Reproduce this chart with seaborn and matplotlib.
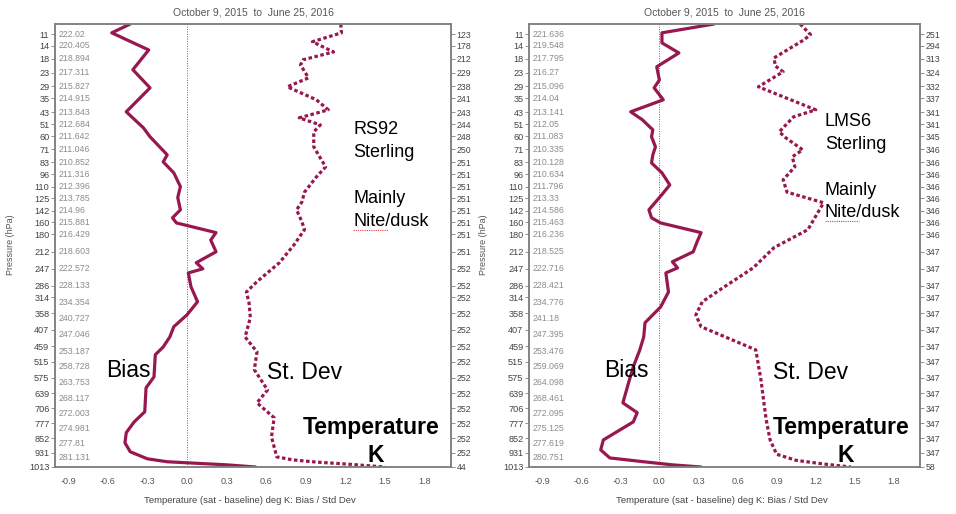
import numpy as np
import matplotlib
matplotlib.use('Agg')
import matplotlib.pyplot as plt
import matplotlib.transforms as mtransforms
from matplotlib.ticker import MultipleLocator, NullLocator
import seaborn as sns

# pressure levels shown on the axis (hPa)
LEVELS = [11, 14, 18, 23, 29, 35, 43, 51, 60, 71, 83, 96, 110, 125, 142, 160, 180,
          212, 247, 286, 314, 358, 407, 459, 515, 575, 639, 706, 777, 852, 931, 1013]

RS92_TEMPS = ['222.02', '220.405', '218.894', '217.311', '215.827', '214.915', '213.843',
              '212.684', '211.642', '211.046', '210.852', '211.316', '212.396', '213.785',
              '214.96', '215.881', '216.429', '218.603', '222.572', '228.133', '234.354',
              '240.727', '247.046', '253.187', '258.728', '263.753', '268.117', '272.003',
              '274.981', '277.81', '281.131']
LMS6_TEMPS = ['221.636', '219.548', '217.795', '216.27', '215.096', '214.04', '213.141',
              '212.05', '211.083', '210.335', '210.128', '210.634', '211.796', '213.33',
              '214.586', '215.463', '216.236', '218.525', '222.716', '228.421', '234.776',
              '241.18', '247.395', '253.476', '259.069', '264.098', '268.461', '272.095',
              '275.125', '277.619', '280.751']

RS92_COUNTS = [123, 178, 212, 229, 238, 241, 243, 244, 248, 250, 251, 251, 251, 251, 251, 251,
               251, 251, 252, 252, 252, 252, 252, 252, 252, 252, 252, 252, 252, 252, 252, 44]
LMS6_COUNTS = [251, 294, 313, 324, 332, 337, 341, 341, 345, 346, 346, 346, 346, 346, 346, 346,
               346, 347, 347, 347, 347, 347, 347, 347, 347, 347, 347, 347, 347, 347, 347, 58]

# RS92 bias / std dev profiles
RS92_BIAS_P = [8.8, 10.7, 15.2, 21.9, 29.7, 42.8, 53.6, 60.4, 76, 82.8, 94.2, 110, 124, 141,
               153, 161, 177, 190, 212, 234, 247, 256, 288, 326, 362, 397, 429, 462, 489,
               572, 616, 722, 770, 824, 877, 926, 966, 983, 989, 1001, 1013.95]
RS92_BIAS = [-0.43, -0.57, -0.29, -0.41, -0.28, -0.46, -0.33, -0.28, -0.15, -0.18, -0.10,
             -0.05, -0.07, -0.05, -0.11, -0.08, 0.22, 0.18, 0.22, 0.07, 0.12, 0.01, 0.03,
             0.08, 0.00, -0.10, -0.13, -0.18, -0.24, -0.25, -0.31, -0.32, -0.40, -0.46,
             -0.47, -0.43, -0.30, -0.15, 0.0, 0.30, 0.52]
RS92_STD_P = [8.8, 10.7, 12.9, 15.8, 18.3, 20.1, 25.2, 29.2, 35.8, 41.6, 46.7, 51.5, 56.6,
              68.8, 87.8, 98.7, 117, 130, 141, 159, 172, 199, 234, 276, 301, 329, 370, 429,
              479, 544, 625, 681, 750, 846, 955, 972, 985, 997, 1013.95]
RS92_STD = [1.165, 1.17, 0.95, 1.11, 0.88, 0.86, 0.92, 0.76, 0.98, 1.07, 0.85, 1.01, 0.96,
            0.96, 1.05, 0.98, 0.89, 0.87, 0.83, 0.87, 0.89, 0.81, 0.70, 0.53, 0.45, 0.47,
            0.48, 0.44, 0.53, 0.51, 0.61, 0.53, 0.66, 0.64, 0.68, 0.80, 0.98, 1.22, 1.50]

# LMS6 bias / std dev profiles
LMS6_BIAS_P = [8.8, 10.7, 13.2, 16.1, 20.8, 26.1, 29.7, 35.8, 42.8, 48, 55.1, 60.4, 68.8,
               76, 83.8, 94.2, 108, 120, 141, 153, 161, 177, 193, 212, 232, 245, 256, 301,
               340, 385, 429, 472, 533, 584, 681, 726, 770, 862, 916, 961, 983, 1001, 1013.95]
LMS6_BIAS = [0.42, 0.02, 0.02, 0.15, -0.02, 0.00, -0.04, 0.03, -0.22, -0.13, -0.05, -0.06,
             -0.03, -0.05, -0.06, 0.02, 0.08, 0.02, -0.08, -0.06, 0.01, 0.32, 0.29, 0.26,
             0.10, 0.14, 0.05, 0.07, 0.01, -0.11, -0.12, -0.15, -0.20, -0.23, -0.28, -0.17,
             -0.20, -0.43, -0.45, -0.38, -0.12, 0.10, 0.32]
LMS6_STD_P = [8.8, 11.1, 12.4, 17.7, 20.5, 22.7, 29.2, 41.6, 46, 56.6, 61.2, 71.4, 77.9,
              87.8, 102, 117, 131, 172, 204, 245, 288, 326, 362, 397, 472, 584, 670, 760,
              862, 940, 975, 995, 1013.95]
LMS6_STD = [1.08, 1.16, 1.11, 0.88, 0.89, 0.95, 0.76, 1.20, 1.03, 0.92, 0.97, 1.10, 1.02,
            1.04, 0.95, 0.98, 1.26, 1.14, 0.88, 0.72, 0.50, 0.33, 0.28, 0.32, 0.74, 0.78,
            0.80, 0.82, 0.85, 0.90, 1.05, 1.25, 1.47]

KAPPA = 0.286
LINE = '#98174F'
GRAY = '#808080'
NARROW = ['Liberation Sans Narrow', 'Liberation Sans', 'DejaVu Sans']
ARIAL = ['Liberation Sans', 'DejaVu Sans']


def fwd(p):
    return np.power(np.clip(p, 1e-6, None), KAPPA)


def inv(u):
    return np.power(np.clip(u, 1e-6, None), 1.0 / KAPPA)


def setup_axis(ax, temps, counts):
    ax.set_yscale('function', functions=(fwd, inv))
    ax.set_ylim(1013.95, 8.8)
    ax.set_xlim(-1.0, 2.0)
    ax.set_yticks(LEVELS)
    ax.set_yticklabels([str(v) for v in LEVELS], family=NARROW, fontsize=6.6, color='#444444')
    ax.yaxis.set_minor_locator(NullLocator())
    xt = np.round(np.arange(-0.9, 1.81, 0.3), 1) + 0.0
    ax.set_xticks(xt)
    ax.set_xticklabels([f'{v + 0.0:.1f}' for v in xt], family=NARROW, fontsize=6.6, color='#555555')
    ax.xaxis.set_minor_locator(MultipleLocator(0.06))
    ax.tick_params(axis='x', which='major', length=5, width=0.8, color=GRAY, pad=2)
    ax.tick_params(axis='x', which='minor', length=2.5, width=0.6, color=GRAY)
    ax.tick_params(axis='y', length=3, width=0.6, color=GRAY, pad=1)
    ax.set_xlabel('')
    ax.set_ylabel('')
    for s in ax.spines.values():
        s.set_color(GRAY)
        s.set_linewidth(1.1)
    ax.axvline(0, color='#666666', ls=(0, (1, 1.5)), lw=0.7, zorder=0)

    # temperature column just inside the left spine
    trans = mtransforms.blended_transform_factory(ax.transAxes, ax.transData)
    for lev, t in zip(LEVELS[:-1], temps):
        dy = -3.6 if lev >= 314 else 0
        tr = mtransforms.offset_copy(trans, fig=ax.figure, y=dy, units='points')
        ax.text(0.008, lev, t, transform=tr, ha='left', va='center',
                family=NARROW, fontsize=6.3, color='#8c8c8c')

    # sample counts on the right side
    tw = ax.twinx()
    tw.set_yscale('function', functions=(fwd, inv))
    tw.set_ylim(1013.95, 8.8)
    tw.set_yticks(LEVELS)
    tw.set_yticklabels([str(c) for c in counts], family=NARROW, fontsize=6.3, color='#444444')
    tw.yaxis.set_minor_locator(NullLocator())
    tw.tick_params(axis='y', length=3, width=0.6, color=GRAY, pad=1)
    for s in tw.spines.values():
        s.set_color(GRAY)
        s.set_linewidth(1.1)


def draw_panel(fig, rect, bias_p, bias, std_p, std, temps, counts, name, pos):
    ax = fig.add_axes(rect)
    sns.lineplot(x=bias, y=bias_p, orient='y', estimator=None, color=LINE, lw=2.3, ax=ax)
    sns.lineplot(x=std, y=std_p, orient='y', estimator=None, color=LINE, lw=2.3,
                 linestyle=(0, (1.1, 0.8)), ax=ax)
    setup_axis(ax, temps, counts)

    big = dict(transform=ax.transAxes, family=ARIAL, va='center', color='black')
    x0, y_name, y_mode = pos['inst']
    ax.text(x0, y_name, name, fontsize=13, **big)
    ax.text(x0, y_name - 0.052, 'Sterling', fontsize=13, **big)
    ax.text(x0, y_mode, 'Mainly', fontsize=13, **big)
    ax.text(x0, y_mode - 0.05, 'Nite/dusk', fontsize=13, **big)
    # spell-check squiggle under "Nite/dusk"
    ax.plot([x0, x0 + 0.087], [y_mode - 0.07] * 2,
            transform=ax.transAxes, color='#e04040', lw=0.8, ls=(0, (1, 1)))
    ax.text(pos['bias'], 0.217, 'Bias', fontsize=16.5, **big)
    ax.text(pos['std'], 0.214, 'St. Dev', fontsize=16.5, **big)
    ax.text(pos['temp'], 0.089, 'Temperature', fontsize=16.5, fontweight='bold', **big)
    ax.text(pos['k'], 0.025, 'K', fontsize=16.5, fontweight='bold', **big)
    return ax


sns.set_style('white')
fig = plt.figure(figsize=(9.56, 5.14), dpi=100)

draw_panel(fig, [0.0575, 0.0914, 0.4143, 0.8619], RS92_BIAS_P, RS92_BIAS, RS92_STD_P, RS92_STD,
           RS92_TEMPS, RS92_COUNTS, 'RS92',
           dict(inst=(0.753, 0.761, 0.605), bias=0.129, std=0.535, temp=0.626, k=0.788))
draw_panel(fig, [0.5534, 0.0914, 0.4089, 0.8619], LMS6_BIAS_P, LMS6_BIAS, LMS6_STD_P, LMS6_STD,
           LMS6_TEMPS, LMS6_COUNTS, 'LMS6',
           dict(inst=(0.757, 0.779, 0.625), bias=0.192, std=0.624, temp=0.624, k=0.789))

for xc in (0.2646, 0.758):
    fig.text(xc, 0.975, 'October 9, 2015  to  June 25, 2016', ha='center', va='center',
             family=NARROW, fontsize=7.5, color='#555555')
    fig.text(xc - 0.003, 0.027, 'Temperature (sat - baseline) deg K: Bias / Std Dev', ha='center',
             va='center', family=NARROW, fontsize=6.8, color='#444444')
for xc in (0.0105, 0.506):
    fig.text(xc, 0.523, 'Pressure (hPa)', rotation=90, ha='center', va='center',
             family=ARIAL, fontsize=6.5, color='#555555')

fig.savefig('out.png', dpi=100)
